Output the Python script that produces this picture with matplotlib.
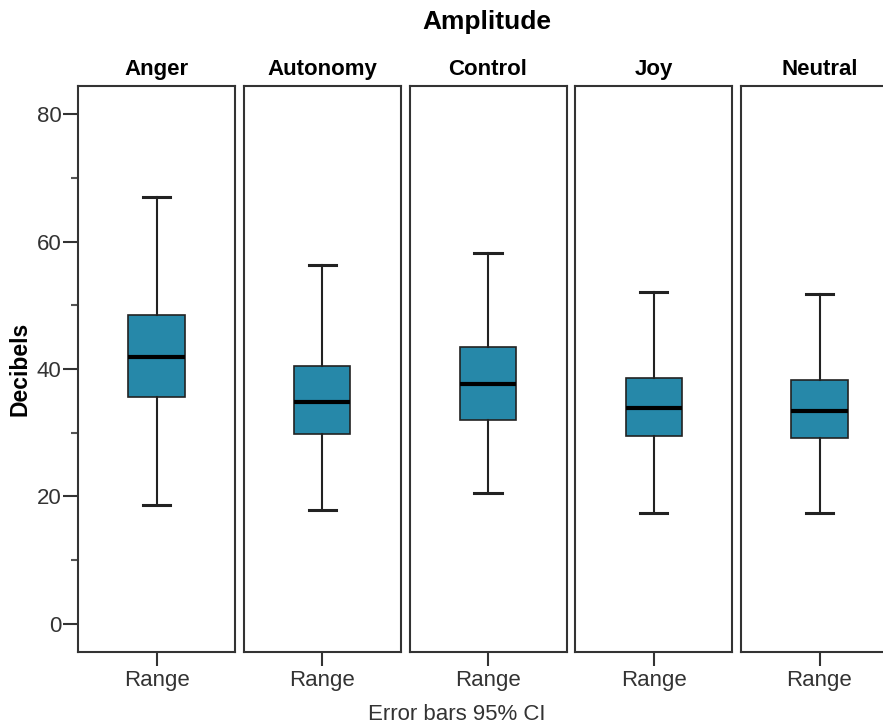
import matplotlib.pyplot as plt
from matplotlib.ticker import MultipleLocator

plt.rcParams['font.family'] = ['Liberation Sans', 'DejaVu Sans']

# --- data ---
emotions = ['Anger', 'Autonomy', 'Control', 'Joy', 'Neutral']
whisk_lo = [18.7, 17.9, 20.5, 17.4, 17.4]
q1 = [35.6, 29.8, 32.0, 29.5, 29.2]
median = [41.9, 34.8, 37.6, 33.9, 33.4]
q3 = [48.5, 40.5, 43.5, 38.6, 38.3]
whisk_hi = [67.0, 56.3, 58.2, 52.1, 51.8]

W, H = 883, 727
fig = plt.figure(figsize=(W / 100, H / 100), dpi=100)

box_col = '#2688a9'
edge = '#222222'
left0, pw, step = 78, 157, 165.75
top, bottom = 86, 652
fs = 16

for i, name in enumerate(emotions):
    x0 = left0 + i * step
    ax = fig.add_axes([x0 / W, 1 - bottom / H, pw / W, (bottom - top) / H])
    stats = [dict(med=median[i], q1=q1[i], q3=q3[i],
                  whislo=whisk_lo[i], whishi=whisk_hi[i], fliers=[], label='Range')]
    ax.bxp(stats, positions=[0], widths=0.357, patch_artist=True, showfliers=False,
           boxprops=dict(facecolor=box_col, edgecolor=edge, linewidth=1.2),
           medianprops=dict(color='black', linewidth=3),
           whiskerprops=dict(color=edge, linewidth=1.5),
           capprops=dict(color=edge, linewidth=2.2), capwidths=0.172)
    ax.set_xlim(-0.5, 0.5)
    ax.set_ylim(-4.4, 84.4)
    for s in ax.spines.values():
        s.set_color('#333333')
        s.set_linewidth(1.5)
    ax.tick_params(axis='x', length=10, width=1.5, color='#333333',
                   labelsize=fs, labelcolor='#333333', pad=3)
    ax.yaxis.set_major_locator(MultipleLocator(20))
    ax.yaxis.set_minor_locator(MultipleLocator(10))
    if i == 0:
        ax.tick_params(axis='y', which='major', length=11, width=1.5, color='#333333',
                       labelsize=fs, labelcolor='#333333', pad=1)
        ax.tick_params(axis='y', which='minor', length=5, width=1.5, color='#555555')
        ax.set_ylabel('Decibels', fontsize=fs + 0.5, fontweight='bold', labelpad=4)
    else:
        ax.tick_params(axis='y', which='both', left=False, labelleft=False)
    ax.set_title(name, fontsize=fs, fontweight='bold', pad=8)

fig.text(487 / W, 1 - 22 / H, 'Amplitude', fontsize=19, fontweight='bold',
         ha='center', va='center')
fig.text(457 / W, 1 - 714 / H, 'Error bars 95% CI', fontsize=fs, color='#333333',
         ha='center', va='center')

fig.savefig('out.png', dpi=100)
